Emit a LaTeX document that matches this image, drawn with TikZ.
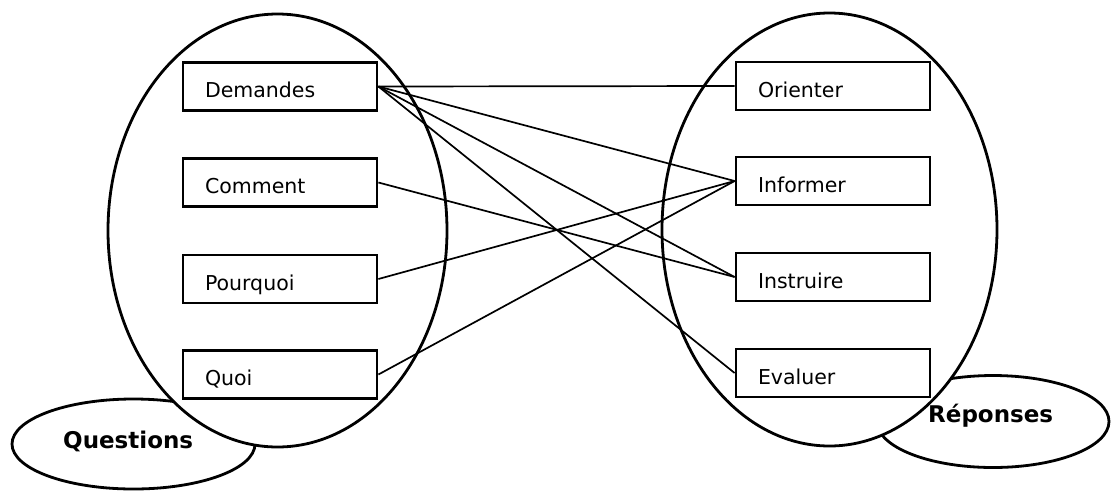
\documentclass[tikz,border=0pt]{standalone}
\usepackage{fontspec}
\setmainfont{DejaVu Sans}
\usepackage{tikz}

\begin{document}
\begin{tikzpicture}[x=1pt, y=-1pt,
  boite/.style={draw, line width=2.8pt, fill=white, minimum height=48pt,
    text width=150pt, inner xsep=22pt, align=left,
    text height=22pt, text depth=0pt, font=\fontsize{20.5}{24}\selectfont},
  groupe/.style={line width=2.8pt},
  lien/.style={line width=1.7pt},
  titre/.style={anchor=base west, inner sep=0pt, font=\fontsize{23}{27}\selectfont\bfseries}]
\useasboundingbox (0,0) rectangle (1111,491);

% small ellipses behind
\draw[groupe] (133.5,444) ellipse [x radius=121.5pt, y radius=45pt];
\draw[groupe] (993,421.5) ellipse [x radius=116pt, y radius=46pt];

% big ellipses
\draw[groupe, fill=white] (277.5,230.5) ellipse [x radius=169.5pt, y radius=216.5pt];
\draw[groupe, fill=white] (829.5,229.5) ellipse [x radius=167.5pt, y radius=216.5pt];

\node[boite] (dem) at (280,86.5) {Demandes};
\node[boite] (com) at (280,182.5) {Comment};
\node[boite] (pq) at (280,279) {Pourquoi};
\node[boite] (quoi) at (280,374.5) {Quoi};

\node[boite] (ori) at (833,86) {Orienter};
\node[boite] (inf) at (833,181) {Informer};
\node[boite] (ins) at (833,277) {Instruire};
\node[boite] (eva) at (833,373) {Evaluer};

\draw[lien] (dem.east) -- (ori.west);
\draw[lien] (dem.east) -- (inf.west);
\draw[lien] (dem.east) -- (ins.west);
\draw[lien] (dem.east) -- (eva.west);
\draw[lien] (com.east) -- (ins.west);
\draw[lien] (pq.east) -- (inf.west);
\draw[lien] (quoi.east) -- (inf.west);

\node[titre] (quest) at (63,448) {Questions};
\node[titre] (rep) at (928,422) {Réponses};
\end{tikzpicture}
\end{document}
